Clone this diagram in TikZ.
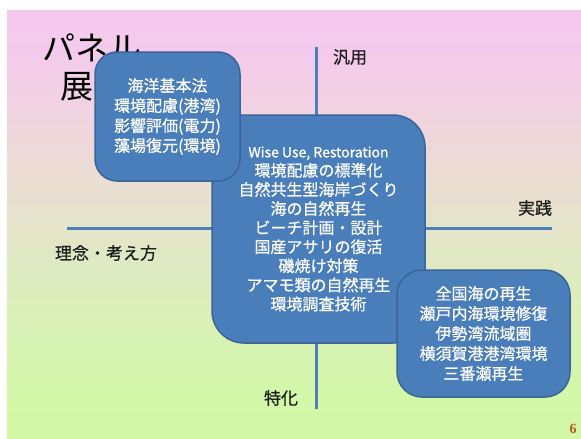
\documentclass[tikz,border=0pt]{standalone}
\usepackage{fontspec}
\setmainfont{Noto Sans CJK JP}
\newfontfamily\jpbold[FakeBold=0.7]{Noto Sans CJK JP}
\newfontfamily\numfont{Liberation Serif}
\definecolor{bgpink}{HTML}{F9C4F9}
\definecolor{bgpink2}{HTML}{F4CAEC}
\definecolor{bgmid}{HTML}{ECDBD6}
\definecolor{bgmid2}{HTML}{DEEBC0}
\definecolor{bggreen}{HTML}{D2F8A8}
\definecolor{bggreen2}{HTML}{D0FBA0}
\definecolor{boxfill}{HTML}{4A7EBB}
\definecolor{boxline}{HTML}{3A6596}
\definecolor{axiscol}{HTML}{4F7FB8}
\definecolor{labcol}{HTML}{1E1E1E}
\definecolor{numcol}{HTML}{B45A1E}
\pgfdeclareverticalshading{slidebg}{100bp}{color(0bp)=(bggreen2); color(30bp)=(bggreen); color(44bp)=(bgmid2); color(57bp)=(bgmid); color(70bp)=(bgpink2); color(100bp)=(bgpink)}
\tikzset{
  panel/.style={fill=boxfill, draw=boxline, line width=1.5pt, text=white, align=center, inner sep=0pt},
  paneltext/.style={font=\jpbold\fontsize{16}{20}\selectfont},
  axisline/.style={draw=axiscol, line width=3pt},
  axislabel/.style={text=labcol, font=\jpbold\fontsize{17}{20}\selectfont, inner sep=0pt},
  titletext/.style={text=black, font=\fontsize{33}{36}\selectfont, inner sep=0pt, anchor=west}
}
\begin{document}
\begin{tikzpicture}[x=1pt,y=-1pt]
\useasboundingbox (0,0) rectangle (581,439);
\fill[white] (0,0) rectangle (581,439);
\shade[shading=slidebg] (7,10) rectangle (581,439);
% axes
\coordinate (hl) at (67,228);
\coordinate (hr) at (552,228);
\coordinate (vt) at (316,47);
\coordinate (vb) at (316,409);
\draw[axisline] (hl) -- (hr);
\draw[axisline] (vt) -- (vb);
% labels
\node[axislabel] (lgen) at (350,57) {汎用};
\node[axislabel] (lprac) at (535,208) {実践};
\node[axislabel] (lidea) at (106,253) {理念・考え方};
\node[axislabel] (lspec) at (281,398) {特化};
% title
\node[titletext] (t1) at (42,48) {パネル};
\node[titletext] (t2) at (60,87) {展};
% central box
\node[panel, minimum width=213pt, minimum height=228pt, rounded corners=32pt, font=\jpbold\fontsize{16}{19.1}\selectfont] (center) at (318.5,229)
  {{\fontsize{14}{19.1}\selectfont Wise Use, Restoration}\\環境配慮の標準化\\自然共生型海岸づくり\\海の自然再生\\ビーチ計画・設計\\国産アサリの復活\\磯焼け対策\\アマモ類の自然再生\\環境調査技術};
% top-left box
\node[panel, paneltext, minimum width=145pt, minimum height=129pt, rounded corners=22pt] (tl) at (167.5,116.5)
  {海洋基本法\\環境配慮(港湾)\\影響評価(電力)\\藻場復元(環境)};
% bottom-right box
\node[panel, paneltext, minimum width=173pt, minimum height=127pt, rounded corners=25pt] (br) at (483.5,333.5)
  {全国海の再生\\瀬戸内海環境修復\\伊勢湾流域圏\\横須賀港港湾環境\\三番瀬再生};
% page number
\node[text=numcol, font=\numfont\bfseries\fontsize{14}{16}\selectfont, inner sep=0pt] (pnum) at (573,429) {6};
\end{tikzpicture}
\end{document}
